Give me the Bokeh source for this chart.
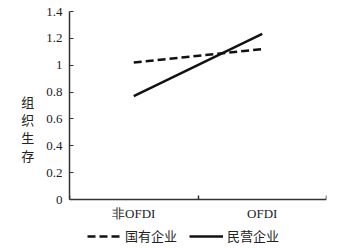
from bokeh.plotting import figure
from bokeh.models import FixedTicker, Legend, LegendItem, Range1d, LinearAxis
from bokeh.embed import file_html
from bokeh.resources import INLINE

categories = ["非OFDI", "OFDI"]
cat_pos = [0.5, 1.5]
state_owned = [1.02, 1.12]
private = [0.77, 1.234]
series_names = ["国有企业", "民营企业"]
y_ticks = [0, 0.2, 0.4, 0.6, 0.8, 1.0, 1.2, 1.4]
y_labels = ["0", "0.2", "0.4", "0.6", "0.8", "1", "1.2", "1.4"]

p = figure(width=354, height=249, output_backend="svg",
           toolbar_location=None, x_range=Range1d(0, 2), y_range=Range1d(-0.342, 1.4),
           x_axis_location=None,
           min_border_left=69, min_border_right=28, min_border_top=11, min_border_bottom=4)
p.outline_line_color = None
p.xgrid.grid_line_color = None
p.ygrid.grid_line_color = None

r1 = p.line(cat_pos, state_owned, line_color="#111111", line_width=2.5, line_dash="8 4")
r2 = p.line(cat_pos, private, line_color="#111111", line_width=2.5)

xa = LinearAxis(fixed_location=0)
p.add_layout(xa, "below")

font = "Liberation Serif"
for ax in (xa, p.yaxis[0]):
    ax.axis_line_color = "#333333"
    ax.axis_line_width = 1.5
    ax.major_tick_line_color = "#333333"
    ax.minor_tick_line_color = "#333333"
    ax.major_label_text_font = font
    ax.major_label_text_font_size = "13px"
    ax.major_label_text_color = "#222222"

xa.ticker = FixedTicker(ticks=cat_pos, minor_ticks=[0, 1, 2])
xa.major_label_overrides = {0.5: categories[0], 1.5: categories[1]}
xa.major_tick_in = 0
xa.major_tick_out = 0
xa.minor_tick_in = 4
xa.minor_tick_out = 0
xa.minor_tick_line_width = 1.5
xa.major_label_standoff = 6

ya = p.yaxis[0]
ya.bounds = (0, 1.4)
ya.ticker = FixedTicker(ticks=y_ticks, minor_ticks=[])
ya.major_label_overrides = {t: l for t, l in zip(y_ticks, y_labels)}
ya.major_tick_in = 4
ya.major_tick_out = 0
ya.major_label_standoff = 7
ya.axis_label = "组\n织\n生\n存"
ya.axis_label_orientation = "horizontal"
ya.axis_label_text_font = "Noto Sans CJK SC"
ya.axis_label_text_font_style = "normal"
ya.axis_label_text_font_size = "13px"
ya.axis_label_text_line_height = 0.95
ya.axis_label_text_color = "#222222"
ya.axis_label_standoff = 9

legend = Legend(items=[LegendItem(label=series_names[0], renderers=[r1]),
                       LegendItem(label=series_names[1], renderers=[r2])],
                orientation="horizontal", location=(18, 0),
                border_line_color=None, background_fill_alpha=0,
                glyph_width=34, glyph_height=10, spacing=12, padding=0,
                margin=0, label_text_font="Noto Sans CJK SC",
                label_text_font_size="13px", label_text_color="#222222",
                label_standoff=4, label_height=14)
p.add_layout(legend, "center")

open("out.html", "w").write(file_html(p, INLINE))
